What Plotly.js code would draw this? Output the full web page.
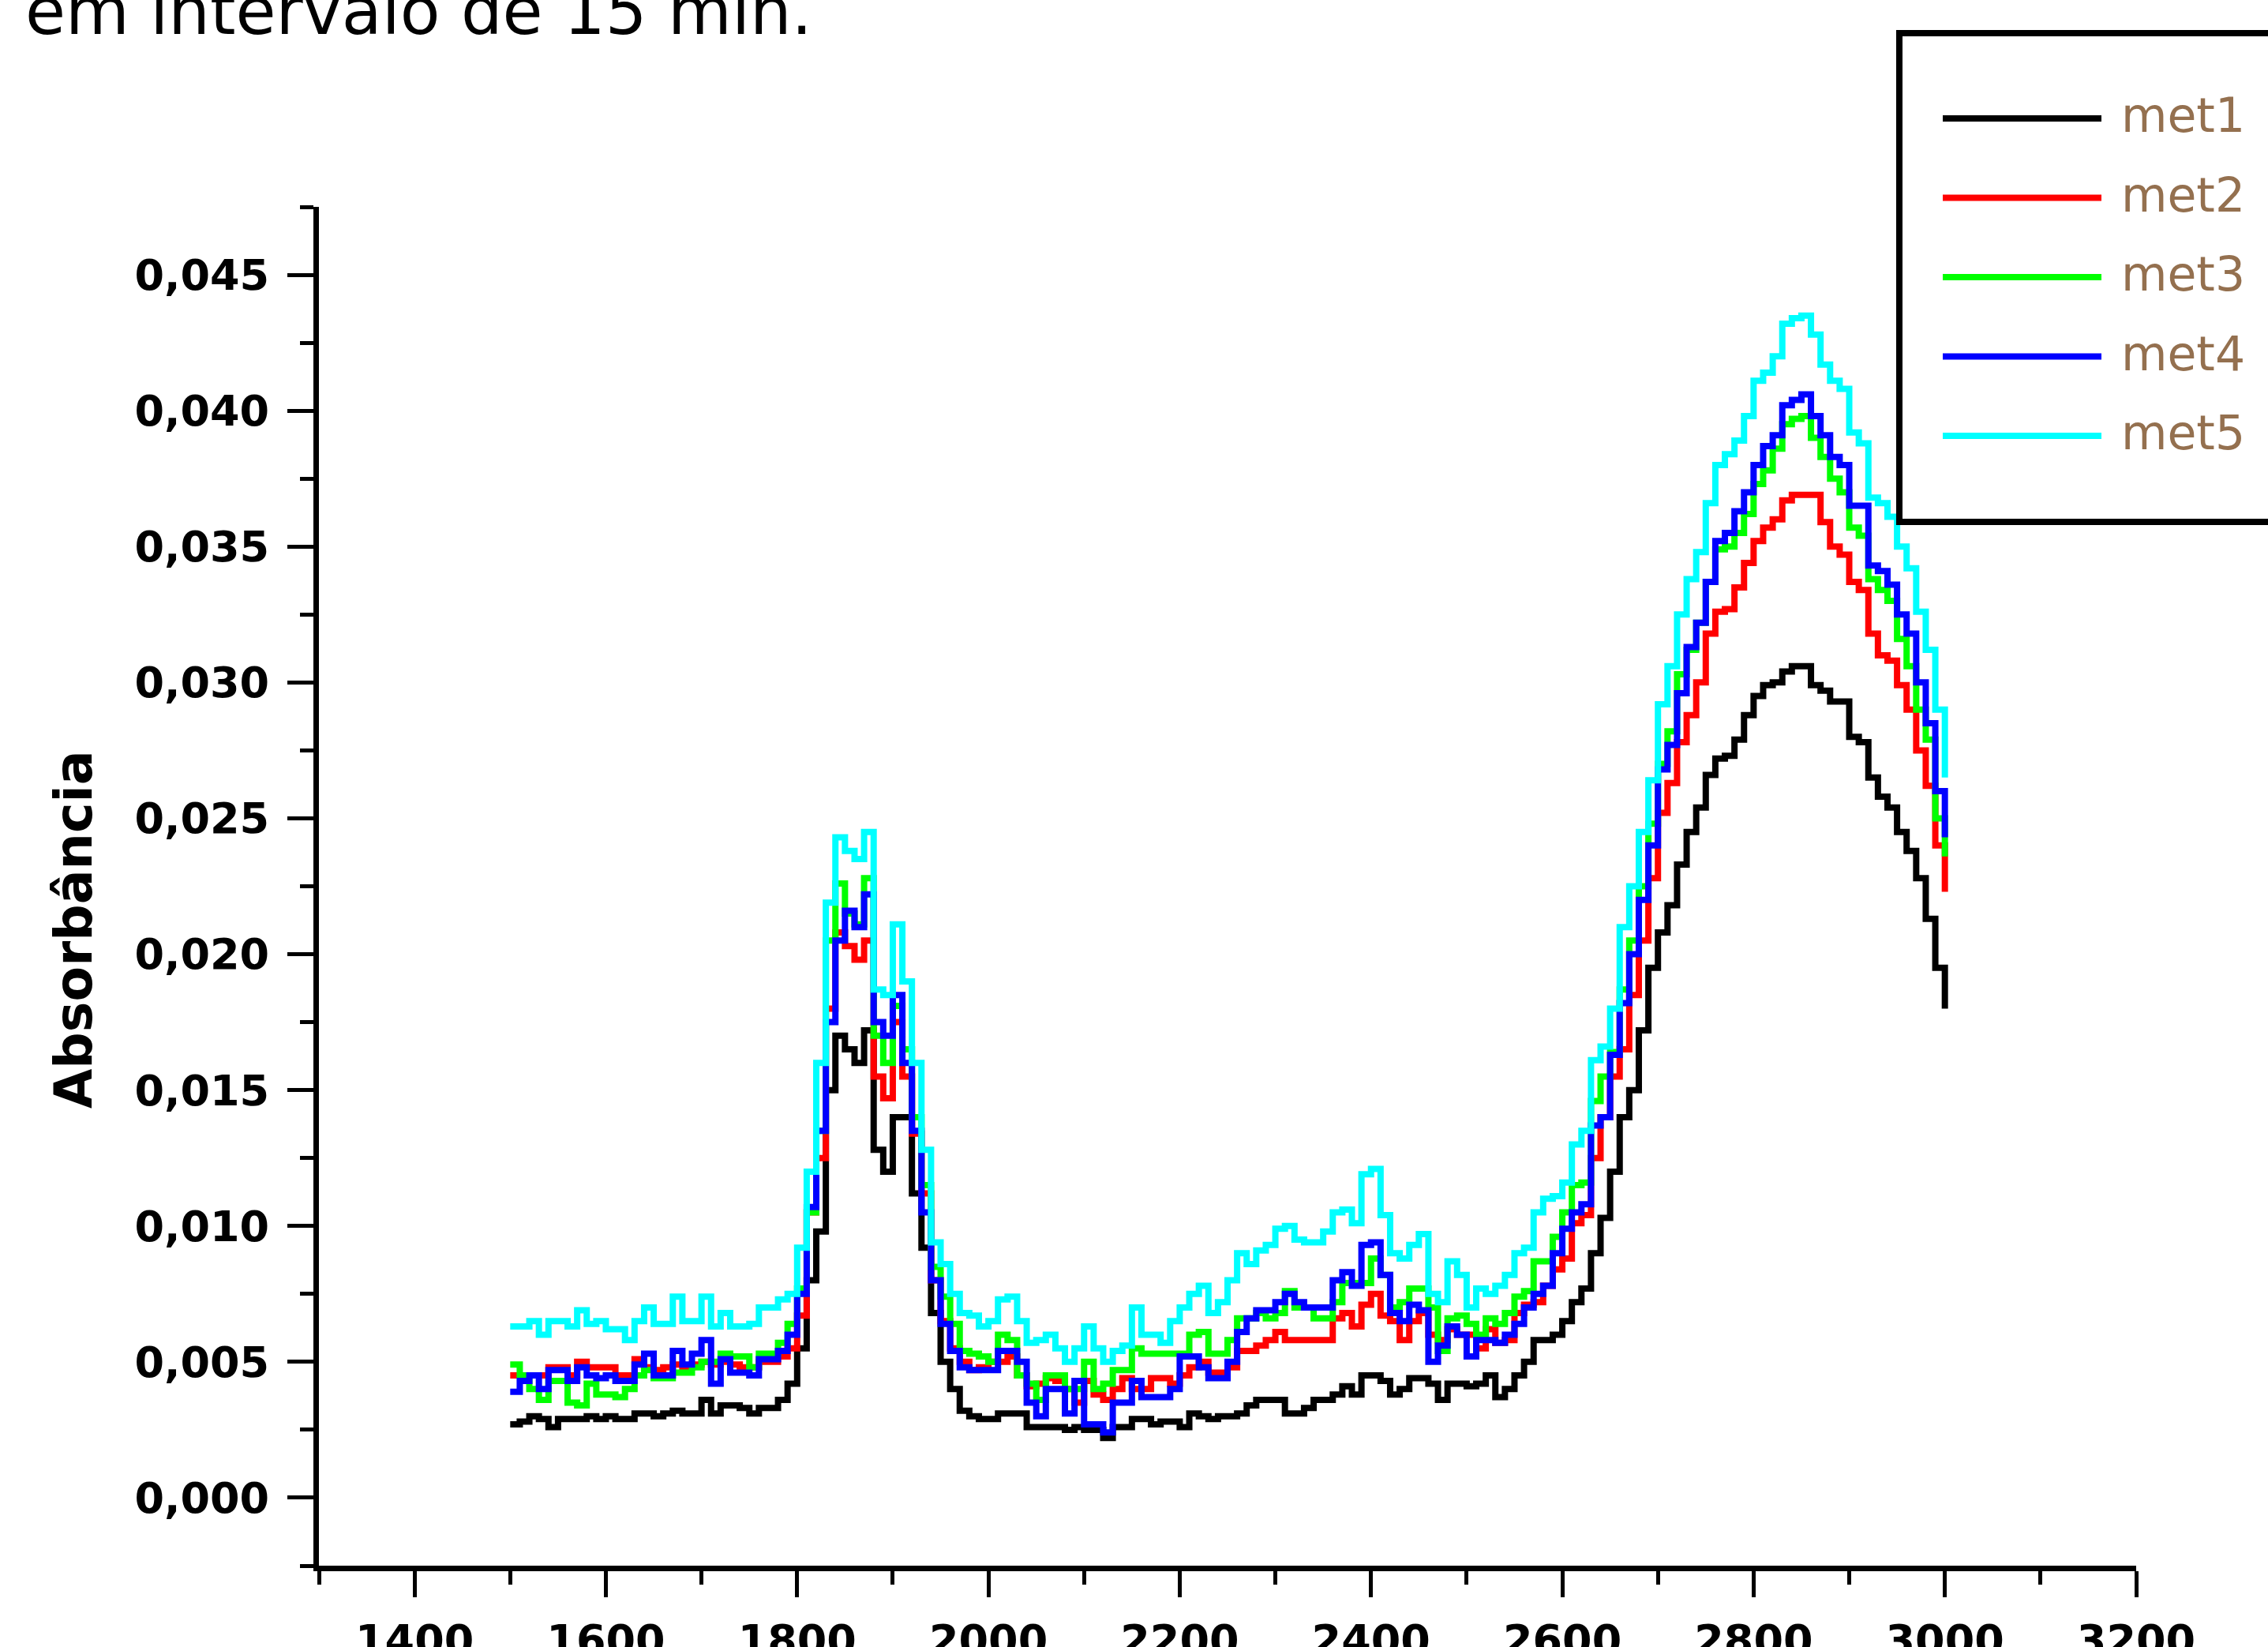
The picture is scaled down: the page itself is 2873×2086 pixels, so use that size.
<!DOCTYPE html>
<html><head><meta charset="utf-8">
<script src="https://cdn.plot.ly/plotly-3.0.1.min.js"></script>
<style>html,body{margin:0;padding:0;background:#fff;} #chart{width:2873px;height:2086px;}</style>
</head><body><div id="chart"></div>
<script>
// ---- data ----
const wavenumber = [
1500,1510,1520,1530,1540,1550,1560,1570,1580,1590,
1600,1610,1620,1630,1640,1650,1660,1670,1680,1690,
1700,1710,1720,1730,1740,1750,1760,1770,1780,1790,
1800,1810,1820,1830,1840,1850,1860,1870,1880,1890,
1900,1910,1920,1930,1940,1950,1960,1970,1980,1990,
2000,2010,2020,2030,2040,2050,2060,2070,2080,2090,
2100,2110,2120,2130,2140,2150,2160,2170,2180,2190,
2200,2210,2220,2230,2240,2250,2260,2270,2280,2290,
2300,2310,2320,2330,2340,2350,2360,2370,2380,2390,
2400,2410,2420,2430,2440,2450,2460,2470,2480,2490,
2500,2510,2520,2530,2540,2550,2560,2570,2580,2590,
2600,2610,2620,2630,2640,2650,2660,2670,2680,2690,
2700,2710,2720,2730,2740,2750,2760,2770,2780,2790,
2800,2810,2820,2830,2840,2850,2860,2870,2880,2890,
2900,2910,2920,2930,2940,2950,2960,2970,2980,2990,
3000];

const met1 = [
.0027,.0028,.0030,.0029,.0026,.0029,.0029,.0029,.0030,.0029,
.0030,.0029,.0029,.0031,.0031,.0030,.0031,.0032,.0031,.0031,
.0036,.0031,.0034,.0034,.0033,.0031,.0033,.0033,.0036,.0042,
.0055,.0080,.0098,.0150,.0170,.0165,.0160,.0172,.0128,.0120,
.0140,.0140,.0112,.0092,.0068,.0050,.0040,.0032,.0030,.0029,
.0029,.0031,.0031,.0031,.0026,.0026,.0026,.0026,.0025,.0026,
.0025,.0025,.0022,.0026,.0026,.0029,.0029,.0027,.0028,.0028,
.0026,.0031,.0030,.0029,.0030,.0030,.0031,.0034,.0036,.0036,
.0036,.0031,.0031,.0033,.0036,.0036,.0038,.0041,.0038,.0045,
.0045,.0043,.0038,.0040,.0044,.0044,.0042,.0036,.0042,.0042,
.0041,.0042,.0045,.0037,.0040,.0045,.0050,.0058,.0058,.0060,
.0065,.0072,.0077,.0090,.0103,.0120,.0140,.0150,.0172,.0195,
.0208,.0218,.0233,.0245,.0254,.0266,.0272,.0273,.0279,.0288,
.0295,.0299,.0300,.0304,.0306,.0306,.0299,.0297,.0293,.0293,
.0280,.0278,.0265,.0258,.0254,.0245,.0238,.0228,.0213,.0195,
.0180];

const met2 = [
.0045,.0045,.0045,.0045,.0048,.0048,.0045,.0050,.0048,.0048,
.0048,.0045,.0045,.0051,.0048,.0047,.0048,.0049,.0048,.0049,
.0050,.0049,.0050,.0049,.0048,.0048,.0050,.0050,.0052,.0055,
.0067,.0105,.0125,.0180,.0208,.0203,.0198,.0205,.0155,.0147,
.0175,.0155,.0134,.0112,.0080,.0065,.0055,.0050,.0047,.0048,
.0050,.0050,.0052,.0045,.0041,.0042,.0044,.0043,.0040,.0035,
.0043,.0038,.0036,.0040,.0044,.0040,.0040,.0044,.0044,.0042,
.0045,.0048,.0050,.0046,.0046,.0048,.0054,.0054,.0056,.0058,
.0061,.0058,.0058,.0058,.0058,.0058,.0066,.0068,.0063,.0071,
.0075,.0067,.0065,.0058,.0065,.0068,.0060,.0058,.0062,.0060,
.0060,.0055,.0062,.0057,.0058,.0068,.0071,.0072,.0078,.0084,
.0088,.0101,.0104,.0125,.0140,.0155,.0165,.0185,.0205,.0228,
.0252,.0263,.0278,.0288,.0300,.0318,.0326,.0327,.0335,.0344,
.0352,.0357,.0360,.0367,.0369,.0369,.0369,.0359,.0350,.0347,
.0337,.0334,.0318,.0310,.0308,.0299,.0290,.0275,.0262,.0240,
.0223];

const met3 = [
.0049,.0045,.0040,.0036,.0043,.0043,.0035,.0034,.0042,.0038,
.0038,.0037,.0040,.0045,.0047,.0044,.0044,.0046,.0046,.0048,
.0050,.0050,.0053,.0052,.0052,.0048,.0053,.0053,.0057,.0064,
.0077,.0105,.0135,.0205,.0226,.0215,.0211,.0228,.0170,.0160,
.0181,.0165,.0140,.0115,.0085,.0074,.0064,.0054,.0053,.0052,
.0050,.0060,.0058,.0045,.0042,.0036,.0045,.0045,.0040,.0040,
.0050,.0040,.0042,.0047,.0047,.0055,.0053,.0053,.0053,.0053,
.0053,.0060,.0061,.0053,.0053,.0058,.0066,.0066,.0068,.0066,
.0068,.0076,.0070,.0070,.0066,.0066,.0072,.0079,.0079,.0079,
.0088,.0082,.0070,.0072,.0077,.0077,.0070,.0054,.0066,.0067,
.0064,.0060,.0066,.0064,.0068,.0074,.0076,.0087,.0087,.0096,
.0105,.0115,.0116,.0146,.0155,.0164,.0187,.0205,.0225,.0248,
.0270,.0282,.0303,.0312,.0322,.0337,.0349,.0350,.0355,.0362,
.0373,.0378,.0386,.0395,.0397,.0398,.0390,.0383,.0375,.0370,
.0357,.0354,.0338,.0334,.0330,.0316,.0306,.0290,.0279,.0250,
.0236];

const met4 = [
.0039,.0043,.0045,.0040,.0047,.0047,.0043,.0048,.0045,.0044,
.0045,.0043,.0043,.0049,.0053,.0045,.0045,.0054,.0049,.0053,
.0058,.0042,.0051,.0046,.0046,.0045,.0051,.0051,.0054,.0060,
.0075,.0107,.0135,.0175,.0205,.0216,.0210,.0222,.0175,.0170,
.0185,.0160,.0135,.0105,.0080,.0064,.0054,.0048,.0047,.0047,
.0047,.0054,.0054,.0050,.0035,.0030,.0040,.0040,.0031,.0043,
.0027,.0027,.0024,.0035,.0035,.0043,.0037,.0037,.0037,.0040,
.0052,.0052,.0048,.0044,.0044,.0050,.0061,.0066,.0069,.0069,
.0072,.0075,.0072,.0070,.0070,.0070,.0080,.0083,.0078,.0093,
.0094,.0082,.0068,.0065,.0071,.0069,.0050,.0056,.0063,.0060,
.0052,.0058,.0058,.0057,.0060,.0064,.0070,.0075,.0078,.0090,
.0099,.0105,.0108,.0137,.0140,.0163,.0182,.0200,.0220,.0240,
.0268,.0277,.0296,.0313,.0322,.0337,.0352,.0355,.0363,.0370,
.0380,.0387,.0391,.0402,.0404,.0406,.0398,.0391,.0383,.0380,
.0365,.0365,.0343,.0341,.0336,.0325,.0318,.0300,.0285,.0260,
.0243];

const met5 = [
.0063,.0063,.0065,.0060,.0065,.0065,.0063,.0069,.0064,.0065,
.0062,.0062,.0058,.0065,.0070,.0064,.0064,.0074,.0065,.0065,
.0074,.0063,.0068,.0063,.0063,.0064,.0070,.0070,.0073,.0075,
.0092,.0120,.0160,.0219,.0243,.0238,.0235,.0245,.0187,.0185,
.0211,.0190,.0160,.0128,.0094,.0086,.0075,.0068,.0067,.0063,
.0065,.0073,.0074,.0065,.0057,.0058,.0060,.0055,.0050,.0055,
.0063,.0055,.0050,.0054,.0056,.0070,.0060,.0060,.0057,.0065,
.0070,.0075,.0078,.0068,.0072,.0080,.0090,.0086,.0091,.0093,
.0099,.0100,.0095,.0094,.0094,.0098,.0105,.0106,.0101,.0119,
.0121,.0104,.0090,.0088,.0093,.0097,.0075,.0072,.0087,.0082,
.0070,.0077,.0075,.0078,.0082,.0090,.0092,.0105,.0110,.0111,
.0116,.0130,.0135,.0161,.0166,.0180,.0210,.0225,.0245,.0264,
.0292,.0306,.0325,.0338,.0348,.0366,.0380,.0384,.0389,.0398,
.0411,.0414,.0420,.0432,.0434,.0435,.0428,.0417,.0411,.0408,
.0392,.0388,.0368,.0366,.0361,.0350,.0342,.0326,.0312,.0290,
.0265];

const seriesNames  = ['met1','met2','met3','met4','met5'];
const seriesValues = [met1, met2, met3, met4, met5];
const seriesColors = ['#000000','#ff0000','#00ff00','#0000ff','#00ffff'];
const titleText  = 'em intervalo de 15 min.';
const yTitleText = 'Absorbância';

// ---- geometry ----
const W = 2873, H = 2086;
const PL = 404, PR = 2706, PT = 262, PB = 1983;
const px2x = p => (p - PL) / (PR - PL);
const py2y = p => (PB - p) / (PB - PT);

const traces = seriesValues.map((vals, i) => ({
  type: 'scatter', mode: 'lines', x: wavenumber, y: vals, name: seriesNames[i],
  line: {color: seriesColors[i], width: 8, shape: 'hv'}, showlegend: false,
  hoverinfo: 'skip'
}));

const tickFont = {family: 'DejaVu Sans', size: 54, weight: 'bold', color: '#000'};

const shapes = [];
const annotations = [];

// legend box
shapes.push({type: 'rect', xref: 'paper', yref: 'paper',
  x0: px2x(2406), x1: px2x(2890), y0: py2y(661), y1: py2y(42),
  line: {color: '#000', width: 8}, fillcolor: 'rgba(0,0,0,0)'});
const legendRowY = [150, 250.5, 351, 451.6, 552];
seriesNames.forEach((nm, i) => {
  shapes.push({type: 'line', xref: 'paper', yref: 'paper',
    x0: px2x(2461), x1: px2x(2662), y0: py2y(legendRowY[i]), y1: py2y(legendRowY[i]),
    line: {color: seriesColors[i], width: 8}});
  annotations.push({xref: 'paper', yref: 'paper', x: px2x(2685), y: py2y(legendRowY[i] - 4),
    xanchor: 'left', yanchor: 'middle', showarrow: false, text: nm,
    font: {family: 'DejaVu Sans', size: 60, color: '#94704f'}});
});

annotations.push({xref: 'paper', yref: 'paper', x: px2x(30), y: py2y(14),
  xanchor: 'left', yanchor: 'middle', showarrow: false, text: titleText,
  font: {family: 'DejaVu Sans', size: 83, color: '#000'}});

annotations.push({xref: 'paper', yref: 'paper', x: px2x(93), y: py2y(1177),
  xanchor: 'center', yanchor: 'middle', showarrow: false, text: yTitleText, textangle: -90,
  font: {family: 'DejaVu Sans', size: 65, weight: 'bold', color: '#000'}});

const layout = {
  width: W, height: H,
  margin: {l: PL, r: W - PR, t: PT, b: H - PB, pad: 0},
  paper_bgcolor: '#fff', plot_bgcolor: '#fff',
  showlegend: false, separators: ',.',
  font: {family: 'DejaVu Sans', color: '#000'},
  xaxis: {
    range: [1300, 3200], tick0: 1400, dtick: 200,
    ticks: 'outside', ticklen: 33, tickwidth: 5, tickcolor: '#000',
    showline: true, linewidth: 7, linecolor: '#000',
    showgrid: false, zeroline: false, tickfont: tickFont, ticklabelstandoff: 8,
    minor: {tick0: 1300, dtick: 100, ticks: 'outside', ticklen: 17, tickwidth: 5, tickcolor: '#000', showgrid: false}
  },
  yaxis: {
    range: [-0.0025, 0.0475], tick0: 0, dtick: 0.005, tickformat: '.3f',
    ticks: 'outside', ticklen: 33, tickwidth: 5, tickcolor: '#000',
    showline: true, linewidth: 7, linecolor: '#000',
    showgrid: false, zeroline: false, tickfont: tickFont, ticklabelstandoff: 12,
    minor: {tick0: 0, dtick: 0.0025, ticks: 'outside', ticklen: 17, tickwidth: 5, tickcolor: '#000', showgrid: false}
  },
  shapes: shapes,
  annotations: annotations
};

Plotly.newPlot('chart', traces, layout, {displayModeBar: false, staticPlot: true});
</script>
</body></html>
